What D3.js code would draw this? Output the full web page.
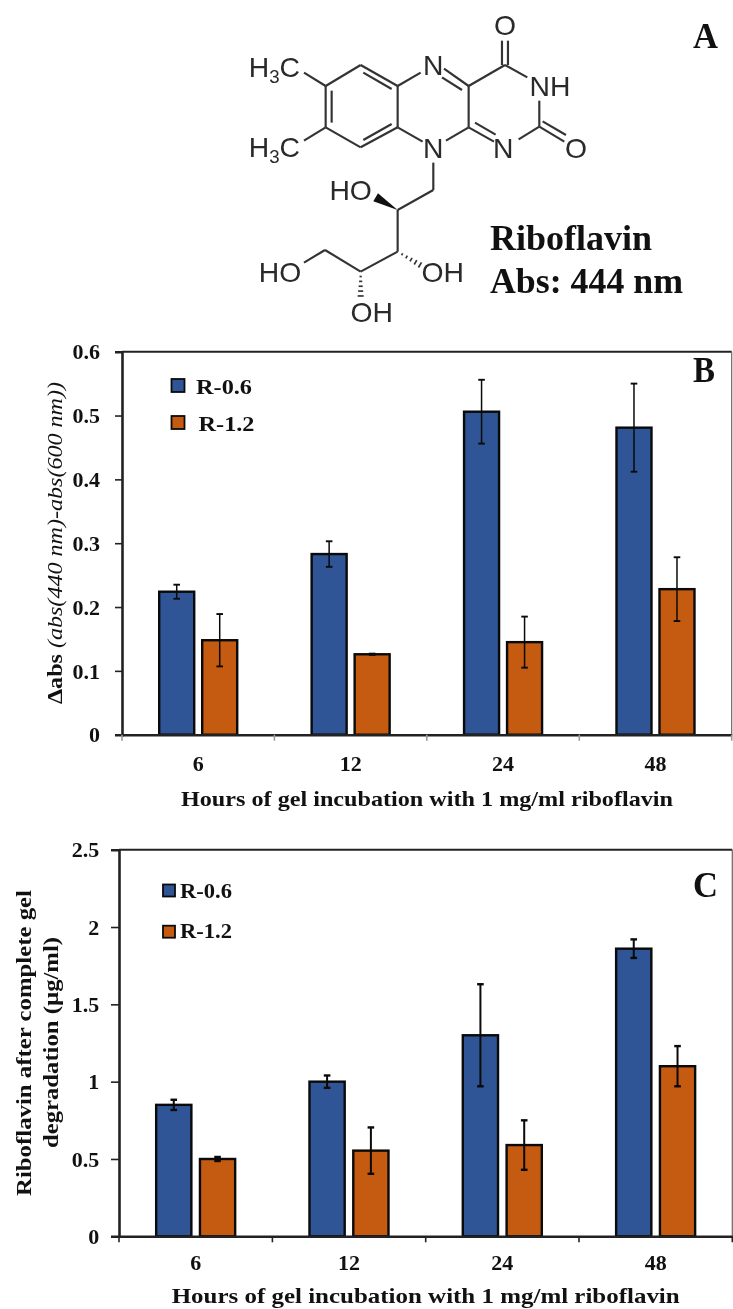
<!DOCTYPE html>
<html>
<head>
<meta charset="utf-8">
<script src="https://cdn.jsdelivr.net/npm/d3@7"></script>
<style>
  html, body { margin: 0; padding: 0; background: #fff; }
  svg { display: block; filter: blur(0.45px); }
  text { font-family: "Liberation Serif", serif; font-weight: bold; fill: #111; }
  .chem text { font-family: "Liberation Sans", sans-serif; font-weight: normal; fill: #2a2a2a; font-size: 85px; }
</style>
</head>
<body>
<svg id="fig" width="733" height="1309"></svg>
<script>
const hours = ['6', '12', '24', '48'];
const series = ['R-0.6', 'R-1.2'];
const colors = ['#2f5597', '#c55a11'];

const b_blue = [0.224, 0.283, 0.506, 0.481];
const b_blue_err = [0.011, 0.020, 0.050, 0.069];
const b_orange = [0.148, 0.126, 0.145, 0.228];
const b_orange_err = [0.041, 0.001, 0.040, 0.050];
const b_ticks = [0, 0.1, 0.2, 0.3, 0.4, 0.5, 0.6];

const c_blue = [0.85, 1.0, 1.30, 1.86];
const c_blue_err = [0.033, 0.04, 0.33, 0.06];
const c_orange = [0.50, 0.554, 0.59, 1.10];
const c_orange_err = [0.013, 0.15, 0.16, 0.13];
const c_ticks = [0, 0.5, 1, 1.5, 2, 2.5];

const x_title = 'Hours of gel incubation with 1 mg/ml riboflavin';

// molecule, traced at 3x of the figure
const bonds = [
  [287,258,392,195],[392,195,503,258],[503,258,503,382],[503,382,392,442],[392,442,287,382],[287,382,287,258],
  [305,272,305,368],[400,218,485,267],[400,420,485,372],
  [503,258,572,218],[642,206,716,258],[636,232,696,270],[716,258,716,382],[716,382,648,422],[503,382,578,425],
  [716,258,825,195],[816,195,816,122],[834,195,834,122],[825,195,892,232],[928,302,928,380],[928,380,866,418],
  [716,382,792,425],[735,368,797,404],[928,380,1003,425],[938,364,1008,405],
  [287,258,222,218],[287,382,222,422],
  [610,488,610,570],[610,570,503,630],[503,630,503,755],[503,755,392,815],[392,815,285,750],[285,750,222,788]
];
const hashes = [[503,755,570,795],[392,815,392,888]];
const wedge = [[503,630,437,592]];
const atoms = [
  ['O',825,106],['N',610,226],['NH',960,288],['N',610,474],['N',820,474],['O',1038,474],
  ['HO',362,600],['OH',638,845],['HO',150,845],['OH',425,965]
];

const svg = d3.select('#fig');

function fit(sel, size, len) {
  return sel.style('font-size', size + 'px').attr('textLength', len).attr('lengthAdjust', 'spacingAndGlyphs');
}

function drawChem() {
  const g = svg.append('g').attr('class', 'chem').attr('transform', 'translate(230,0) scale(0.3333)');
  g.selectAll('line.b').data(bonds).enter().append('line')
    .attr('x1', d => d[0]).attr('y1', d => d[1]).attr('x2', d => d[2]).attr('y2', d => d[3])
    .attr('stroke', '#333').attr('stroke-width', 6.5);
  hashes.forEach(h => {
    for (let i = 1; i <= 5; i++) {
      let t = i / 5, w = 2 + t * 7;
      let dx = h[2] - h[0], dy = h[3] - h[1], l = Math.hypot(dx, dy);
      let mx = h[0] + dx * t, my = h[1] + dy * t;
      g.append('line').attr('x1', mx - dy / l * w).attr('y1', my + dx / l * w)
        .attr('x2', mx + dy / l * w).attr('y2', my - dx / l * w)
        .attr('stroke', '#333').attr('stroke-width', 5);
    }
  });
  wedge.forEach(w => {
    let dx = w[2] - w[0], dy = w[3] - w[1], l = Math.hypot(dx, dy);
    let px = -dy / l * 14, py = dx / l * 14;
    g.append('path').attr('d', `M${w[0]},${w[1]}L${w[2] + px},${w[3] + py}L${w[2] - px},${w[3] - py}Z`).attr('fill', '#111');
  });
  g.selectAll('text.a').data(atoms).enter().append('text')
    .attr('x', d => d[1]).attr('y', d => d[2]).attr('text-anchor', 'middle').text(d => d[0]);
  [232, 472].forEach(y => {
    let t = g.append('text').attr('x', 56).attr('y', y);
    t.append('tspan').text('H');
    t.append('tspan').attr('dy', 18).style('font-size', '56px').text('3');
    t.append('tspan').attr('dy', -18).text('C');
  });
}

function drawChart(o) {
  const x = d3.scaleBand().domain(hours).range([o.left, o.right]);
  const inner = d3.scaleBand().domain(series).range([x.bandwidth() / 2 - o.span / 2, x.bandwidth() / 2 + o.span / 2]).paddingInner(o.gap);
  const y = d3.scaleLinear().domain(o.domain).range([o.bottom, o.top]);

  // frame
  svg.append('line').attr('x1', o.left).attr('x2', o.right).attr('y1', o.top).attr('y2', o.top).attr('stroke', '#222').attr('stroke-width', 2);
  svg.append('line').attr('x1', o.right).attr('x2', o.right).attr('y1', o.top).attr('y2', o.bottom).attr('stroke', '#666').attr('stroke-width', 1.2);

  const rows = [[o.blue, o.blue_err], [o.orange, o.orange_err]];
  rows.forEach((r, s) => {
    const g = svg.append('g');
    const data = hours.map((h, i) => ({ h: h, v: r[0][i], e: r[1][i] }));
    const cx = d => x(d.h) + inner(series[s]) + inner.bandwidth() / 2;
    g.selectAll('rect').data(data).enter().append('rect')
      .attr('x', d => x(d.h) + inner(series[s]))
      .attr('y', d => y(d.v))
      .attr('width', inner.bandwidth())
      .attr('height', d => y(0) - y(d.v))
      .attr('fill', colors[s]).attr('stroke', '#0a0a0a').attr('stroke-width', 2.4);
    g.selectAll('line.err').data(data).enter().append('line').attr('class', 'err')
      .attr('x1', cx).attr('x2', cx).attr('y1', d => y(d.v + d.e)).attr('y2', d => y(d.v - d.e))
      .attr('stroke', '#0a0a0a').attr('stroke-width', o.errw);
    [1, -1].forEach(k => {
      g.selectAll('line.cap' + k).data(data).enter().append('line').attr('class', 'cap' + k)
        .attr('x1', d => cx(d) - 3.3).attr('x2', d => cx(d) + 3.3)
        .attr('y1', d => y(d.v + k * d.e)).attr('y2', d => y(d.v + k * d.e))
        .attr('stroke', '#0a0a0a').attr('stroke-width', o.errw + 0.4);
    });
  });

  const ya = svg.append('g').attr('transform', `translate(${o.left},0)`)
    .call(d3.axisLeft(y).tickValues(o.ticks).tickSize(o.ytick).tickPadding(o.ypad).tickFormat(d => String(d)));
  ya.select('.domain').attr('stroke', '#222').attr('stroke-width', 2.6);
  ya.selectAll('.tick line').attr('stroke', '#222').attr('stroke-width', 1.6);
  ya.selectAll('.tick text').style('font-size', '22px').style('font-family', '"Liberation Serif", serif').attr('dy', '0.33em');

  const xa = svg.append('g').attr('transform', `translate(0,${o.bottom})`)
    .call(d3.axisBottom(x).tickSize(0).tickPadding(o.xpad));
  xa.select('.domain').attr('stroke', '#222').attr('stroke-width', 2.6);
  xa.selectAll('.tick text').style('font-size', '22px').style('font-family', '"Liberation Serif", serif');
  svg.append('g').selectAll('line').data(o.xticks).enter().append('line')
    .attr('x1', d => d).attr('x2', d => d).attr('y1', o.bottom).attr('y2', o.bottom + 6)
    .attr('stroke', o.xtickc).attr('stroke-width', 1.6);

  series.forEach((s, i) => {
    svg.append('rect').attr('x', o.legx).attr('y', o.legy[i]).attr('width', o.legw).attr('height', o.legw)
      .attr('fill', colors[i]).attr('stroke', '#0a0a0a').attr('stroke-width', 1.8);
    fit(svg.append('text').attr('x', o.legtx[i]).attr('y', o.legby[i]).text(s), 21, o.leglen);
  });

  fit(svg.append('text').attr('x', o.tx).attr('y', o.ty).text(x_title), 22, o.tlen);
  fit(svg.append('text').attr('x', 693).attr('y', o.letby).text(o.letter), 35, o.letlen);
}

drawChem();

fit(svg.append('text').attr('x', 693).attr('y', 48).text('A'), 35, 25);
fit(svg.append('text').attr('x', 490).attr('y', 250).text('Riboflavin'), 35, 162);
fit(svg.append('text').attr('x', 490).attr('y', 293).text('Abs: 444 nm'), 35, 193);

drawChart({
  left: 122, right: 731.7, top: 351.7, bottom: 734.7, domain: [0, 0.6], ticks: b_ticks,
  blue: b_blue, blue_err: b_blue_err, orange: b_orange, orange_err: b_orange_err,
  span: 78, gap: 0.186, errw: 1.5, ytick: 7, ypad: 15, xpad: 20.7, xtickc: '#999',
  xticks: [122, 274.4, 426.8, 579.3, 731.7],
  legx: 171.5, legw: 13, legy: [379, 416], legtx: [196, 198.5], legby: [394, 431], leglen: 56,
  tx: 181, ty: 805.7, tlen: 492, letter: 'B', letby: 381.7, letlen: 22
});

drawChart({
  left: 119, right: 732.3, top: 849.7, bottom: 1236.3, domain: [0, 2.5], ticks: c_ticks,
  blue: c_blue, blue_err: c_blue_err, orange: c_orange, orange_err: c_orange_err,
  span: 79, gap: 0.196, errw: 2, ytick: 8, ypad: 11.7, xpad: 18, xtickc: '#222',
  xticks: [119, 272.4, 425.7, 579, 732.3],
  legx: 163, legw: 12, legy: [884.5, 925.7], legtx: [180, 180], legby: [898, 938], leglen: 52,
  tx: 171.7, ty: 1303, tlen: 508, letter: 'C', letby: 896.7, letlen: 25
});

// y titles
const bt = svg.append('text').attr('transform', 'translate(62,704) rotate(-90)').style('font-size', '22px').attr('textLength', 322).attr('lengthAdjust', 'spacingAndGlyphs');
bt.append('tspan').text('Δabs ');
bt.append('tspan').style('font-weight', 'normal').style('font-style', 'italic').text('(abs(440 nm)-abs(600 nm))');

fit(svg.append('text').attr('transform', 'translate(30.5,1196) rotate(-90)').text('Riboflavin after complete gel'), 22, 306);
fit(svg.append('text').attr('transform', 'translate(58,1148) rotate(-90)').text('degradation (µg/ml)'), 22, 211);
</script>
</body>
</html>
